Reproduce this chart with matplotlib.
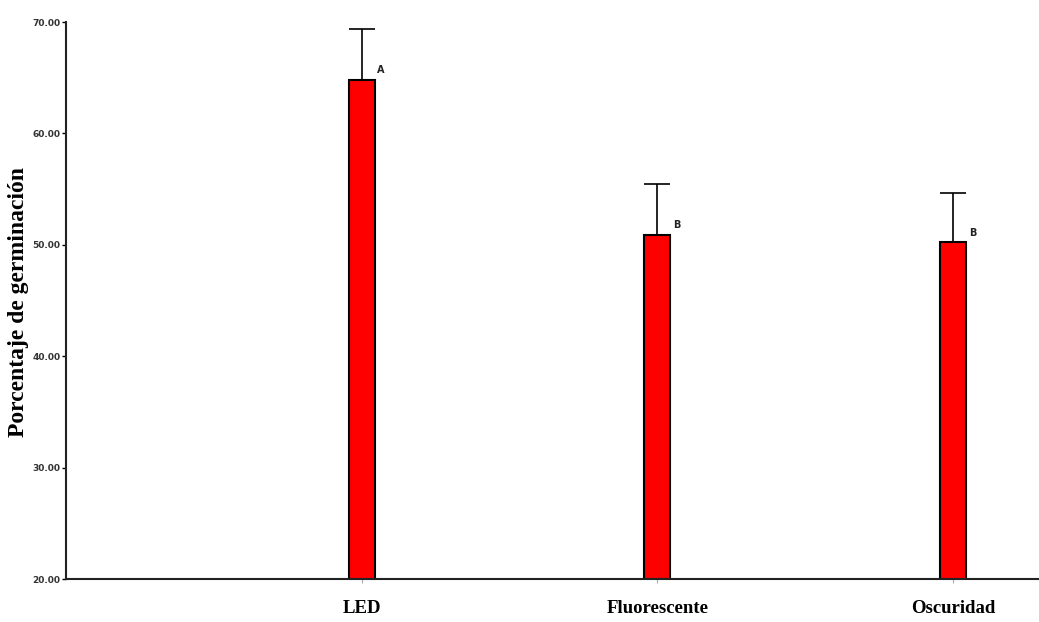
import matplotlib.pyplot as plt
import numpy as np

# germination percentage per light treatment
tratamientos = ['LED', 'Fluorescente', 'Oscuridad']
medias = [64.8, 50.9, 50.25]
errores = [4.6, 4.6, 4.4]
letras = ['A', 'B', 'B']
yticks = [20, 30, 40, 50, 60, 70]

fig = plt.figure(figsize=(10.39, 6.22), dpi=100)
ax = fig.add_axes([0.0635, 0.069, 0.9365, 0.8956])

x = np.arange(len(tratamientos))
ancho = 0.088
ax.bar(x, np.array(medias) - 20, bottom=20, width=ancho, color='#ff0000',
       edgecolor='black', linewidth=1.5, zorder=2)

# upper error bars only
sup = np.array(medias) + np.array(errores)
ax.vlines(x, medias, sup, color='black', linewidth=1.2, zorder=1)
ax.hlines(sup, x - ancho / 2, x + ancho / 2, color='black', linewidth=1.2)

for xi, m, l in zip(x, medias, letras):
    ax.text(xi + 0.065, m + 0.4, l, fontsize=7, fontweight='bold',
            ha='center', va='bottom', color='#222222')

ax.set_xlim(-1, 2.29)
ax.set_ylim(20, 70)
ax.set_yticks(yticks)
ax.set_yticklabels(['%.2f' % v for v in yticks], fontsize=6.5, fontweight='bold',
                   color='#333333')
ax.set_xticks(x)
ax.set_xticklabels(tratamientos, fontsize=13.5, fontweight='bold',
                   family='Liberation Serif')
ax.tick_params(axis='y', length=3, width=1, pad=1)
ax.tick_params(axis='x', length=3, width=0.8, pad=12, colors='#aaaaaa',
               labelcolor='black')

for s in ['top', 'right']:
    ax.spines[s].set_visible(False)
for s in ['left', 'bottom']:
    ax.spines[s].set_linewidth(1.5)
    ax.spines[s].set_color('#222222')

fig.text(0.0175, 0.514, 'Porcentaje de germinación', rotation=90, ha='center',
         va='center', fontsize=17, fontweight='bold', family='Liberation Serif',
         bbox=dict(facecolor='white', edgecolor='none', pad=0.5))

fig.savefig('out.png', dpi=100)
